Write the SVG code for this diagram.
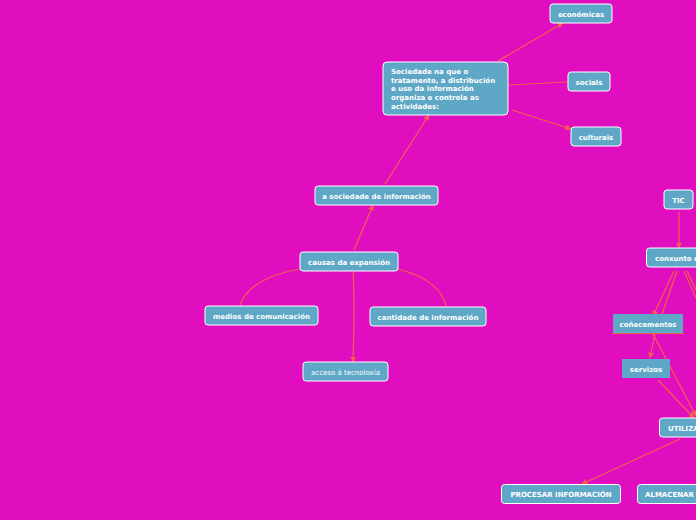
<svg xmlns="http://www.w3.org/2000/svg" width="696" height="520" viewBox="0 0 696 520">
<defs>
<style>
.n{fill:#5FA7C6;stroke:#FFFFFF;stroke-width:1}
.s{fill:#5FA7C6;stroke:none}
.t{font-family:"DejaVu Sans",Verdana,sans-serif;font-size:7px;font-weight:bold;fill:#FFFFFF}
.tl{font-family:"DejaVu Sans",Verdana,sans-serif;font-size:7px;fill:#FFFFFF}
.c{fill:none;stroke:#F2604E;stroke-width:1.2}
</style>
<marker id="a" viewBox="0 0 10 10" refX="9" refY="5" markerWidth="6" markerHeight="6" orient="auto" markerUnits="userSpaceOnUse">
<path d="M0,0 L10,5 L0,10 z" fill="#F2604E"/>
</marker>
</defs>
<rect width="696" height="520" fill="#E00EBF"/>
<g id="connectors">
<path class="c" d="M498,61 L563,23" marker-end="url(#a)"/>
<path class="c" d="M509,85 L567,82"/>
<path class="c" d="M512,110 L571,129" marker-end="url(#a)"/>
<path class="c" d="M385,184 L429,115" marker-end="url(#a)"/>
<path class="c" d="M354,250 L373,205" marker-end="url(#a)"/>
<path class="c" d="M300,269 Q250,278 240,305"/>
<path class="c" d="M398,269 Q440,280 446,306"/>
<path class="c" d="M353,272 Q355,300 353,362" marker-end="url(#a)"/>
<path class="c" d="M679,212 L679,248" marker-end="url(#a)"/>
<path class="c" d="M674,271 L653,316" marker-end="url(#a)"/>
<path class="c" d="M677,271 L662,314"/>
<path class="c" d="M684,271 L696,298"/>
<path class="c" d="M687,271 L696,290"/>
<path class="c" d="M655,334 L650,358" marker-end="url(#a)"/>
<path class="c" d="M653,334 L696,416" marker-end="url(#a)"/>
<path class="c" d="M658,380 L694,418" marker-end="url(#a)"/>
<path class="c" d="M680,439 L582,484" marker-end="url(#a)"/>
<line x1="612" y1="333.5" x2="684" y2="333.5" stroke="#F2604E" stroke-width="1"/>
</g>
<g id="n-sociedade"><rect class="n" x="383" y="62" width="125" height="53" rx="4"/>
<text class="t" x="391" y="74">Sociedade na que o</text>
<text class="t" x="391" y="82.7">tratamento, a distribución</text>
<text class="t" x="391" y="91.4">e uso da información</text>
<text class="t" x="391" y="100.1">organiza e controla as</text>
<text class="t" x="391" y="108.8">actividades:</text></g>
<g id="n-economicas"><rect class="n" x="550" y="4" width="62" height="19" rx="3"/><text class="t" x="581" y="16.5" text-anchor="middle">económicas</text></g>
<g id="n-socials"><rect class="n" x="568" y="72" width="42" height="19" rx="3"/><text class="t" x="589" y="84.5" text-anchor="middle">socials</text></g>
<g id="n-culturais"><rect class="n" x="571" y="127" width="50" height="19" rx="3"/><text class="t" x="596" y="139.5" text-anchor="middle">culturais</text></g>
<g id="n-asociedade"><rect class="n" x="315" y="186" width="123" height="19" rx="3"/><text class="t" x="376.5" y="198.5" text-anchor="middle">a sociedade de información</text></g>
<g id="n-causas"><rect class="n" x="300" y="252" width="98" height="19" rx="3"/><text class="t" x="349" y="264.5" text-anchor="middle">causas da expansión</text></g>
<g id="n-medios"><rect class="n" x="205" y="306" width="113" height="19" rx="3"/><text class="t" x="261.5" y="318.5" text-anchor="middle">medios de comunicación</text></g>
<g id="n-cantidade"><rect class="n" x="370" y="307" width="116" height="19" rx="3"/><text class="t" x="428" y="319.5" text-anchor="middle">cantidade de información</text></g>
<g id="n-acceso"><rect class="n" x="303" y="362" width="85" height="19" rx="3"/><text class="tl" x="345.5" y="374.5" text-anchor="middle">acceso á tecnoloxía</text></g>
<g id="n-tic"><rect class="n" x="664" y="190" width="29" height="19" rx="3"/><text class="t" x="678.5" y="202.5" text-anchor="middle">TIC</text></g>
<g id="n-conxunto"><rect class="n" x="646.5" y="248" width="60" height="19" rx="3"/><text class="t" x="655" y="260.5">conxunto de</text></g>
<g id="n-conecementos"><rect class="s" x="613" y="314" width="70" height="19"/><text class="t" x="648" y="326.5" text-anchor="middle">coñecementos</text></g>
<g id="n-servizos"><rect class="s" x="622" y="359" width="48" height="19" stroke="#B7D3E0" stroke-width="0.6"/><text class="t" x="646" y="371.5" text-anchor="middle">servizos</text></g>
<g id="n-utiliza"><rect class="n" x="659.5" y="418" width="60" height="19" rx="3"/><text class="t" x="668" y="430.5">UTILIZA</text></g>
<g id="n-procesar"><rect class="n" x="501.5" y="484.5" width="119" height="19" rx="3"/><text class="t" x="561" y="497" text-anchor="middle">PROCESAR INFORMACIÓN</text></g>
<g id="n-almacenar"><rect class="n" x="637.5" y="484.5" width="80" height="19" rx="3"/><text class="t" x="645" y="497">ALMACENAR</text></g>
</svg>
